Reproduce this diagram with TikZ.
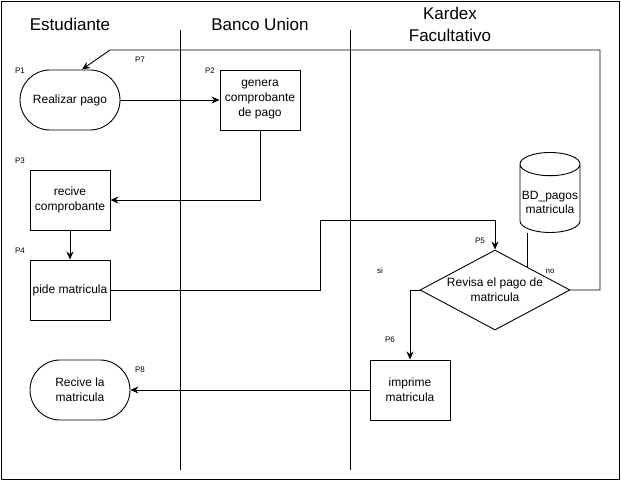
\documentclass[tikz,border=0pt]{standalone}
\usepackage{fontspec}
\setmainfont{Liberation Sans}
\usetikzlibrary{shapes.geometric,arrows.meta,calc}

\begin{document}
\begin{tikzpicture}[x=1pt,y=-1pt,
  line/.style={line width=0.9pt},
  flow/.style={line width=0.9pt,-{Stealth[length=8pt,width=7pt]}},
  box/.style={draw,line width=0.9pt,minimum width=80pt,minimum height=60pt,inner sep=1pt,align=center,font=\fontsize{12}{15}\selectfont},
  oval/.style={box,rounded corners=30pt,minimum width=100pt},
  lanetitle/.style={align=center,font=\fontsize{17}{22}\selectfont},
  tag/.style={font=\fontsize{8}{10}\selectfont}]
  \useasboundingbox (0,0) rectangle (621,481);

  %frame and lanes
  \draw[line] (1,1) rectangle (619,479);
  \draw[line] (180,30) -- (180,470);
  \draw[line] (350,30) -- (350,470);
  \node[lanetitle] (estudiante) at (70,24) {Estudiante};
  \node[lanetitle] (banco) at (260,24) {Banco Union};
  \node[lanetitle] (kardex) at (450,24) {Kardex\\Facultativo};

  %steps
  \node[oval] (pago) at (70,100) {Realizar pago};
  \node[box] (genera) at (260,100) {genera\\comprobante\\de pago};
  \node[box] (recive) at (70,200) {recive\\comprobante};
  \node[box] (pide) at (70,290) {pide matricula};
  \node[draw,line width=0.9pt,diamond,aspect=1.875,minimum width=150pt,minimum height=80pt,inner sep=0pt,align=center,font=\fontsize{12}{15}\selectfont] (revisa) at (495,290) {Revisa el pago de\\matricula};
  \node[draw,line width=0.9pt,cylinder,shape border rotate=90,aspect=0.4,minimum width=60pt,minimum height=80pt,inner sep=1pt,align=center,font=\fontsize{12}{14}\selectfont] (bd) at (550,200) {\mbox{}\\BD\_pagos\\matricula};
  \node[box] (imprime) at (410,390) {imprime\\matricula};
  \node[oval] (recibe) at (80,390) {Recive la\\matricula};

  %labels
  \node[tag] (p1) at (20,71) {P1};
  \node[tag] (p2) at (210,71) {P2};
  \node[tag] (p3) at (20,161) {P3};
  \node[tag] (p4) at (20,251) {P4};
  \node[tag] (p5) at (480,241) {P5};
  \node[tag] (p6) at (390,340) {P6};
  \node[tag] (p7) at (140,60) {P7};
  \node[tag] (p8) at (140,370) {P8};
  \node[tag] (si) at (380,271) {si};
  \node[tag] (no) at (550,271) {no};

  %bends
  \coordinate (up) at (320,220);
  \coordinate (back) at (600,50);
  \coordinate (backend) at (110,50);
  \coordinate (dblink) at ($(revisa.north)!0.427!(revisa.east)$);

  %connectors
  \draw[flow] (pago.east) -- (genera.west);
  \draw[flow] (genera.south) |- (recive.east);
  \draw[flow] (recive.south) -- (pide.north);
  \draw[flow] (pide.east) -| (up) -| (revisa.north);
  \draw[flow] (revisa.east) -| (back) -- (backend) -- ([xshift=12pt]pago.north);
  \draw[flow] (revisa.west) -| (imprime.north);
  \draw[flow] (imprime.west) -- (recibe.east);
  \draw[line] (dblink) -- (dblink |- bd.south);
\end{tikzpicture}
\end{document}
